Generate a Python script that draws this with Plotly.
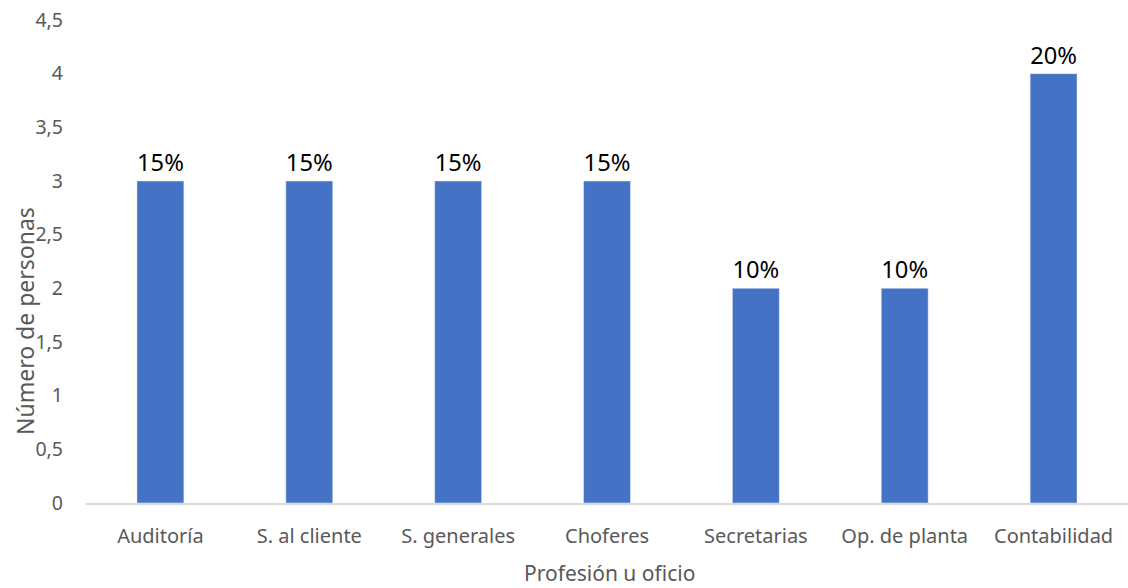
import plotly.graph_objects as go

categories = ["Auditoría", "S. al cliente", "S. generales", "Choferes", "Secretarias", "Op. de planta", "Contabilidad"]
values = [3, 3, 3, 3, 2, 2, 4]
labels = ["15%", "15%", "15%", "15%", "10%", "10%", "20%"]
y_ticks = [0, 0.5, 1, 1.5, 2, 2.5, 3, 3.5, 4, 4.5]
y_tick_text = ["0", "0,5", "1", "1,5", "2", "2,5", "3", "3,5", "4", "4,5"]

FONT = "Noto Sans"
GRAY = "#595959"

L, T, B = 86, 20, 85
W, H = 1128, 588
PW = W - L
PH = H - T - B

fig = go.Figure(go.Bar(
    x=categories, y=values, text=labels, textposition="outside",
    textfont=dict(family=FONT, size=24, color="black"),
    marker=dict(color="#4472C4"), cliponaxis=False,
))

fig.update_layout(
    width=W, height=H,
    margin=dict(l=L, r=0, t=T, b=B),
    paper_bgcolor="white", plot_bgcolor="white",
    bargap=0.685, showlegend=False,
    font=dict(family=FONT, color=GRAY),
    xaxis=dict(
        automargin=False,
        showline=True, linecolor="#D9D9D9", linewidth=1.5,
        tickfont=dict(family=FONT, size=20, color=GRAY),
        ticks="", ticklabelstandoff=14,
    ),
    yaxis=dict(
        automargin=False, ticklabeloverflow="allow",
        range=[0, 4.5], tickvals=y_ticks, ticktext=y_tick_text,
        showgrid=False, zeroline=False, showline=False,
        tickfont=dict(family=FONT, size=19.5, color=GRAY),
        ticks="", ticklabelstandoff=22,
    ),
    annotations=[
        dict(
            text="Número de personas", textangle=-90, xref="paper", yref="paper",
            x=(25 - L) / PW, y=(503 - 321) / PH, xanchor="center", yanchor="middle", showarrow=False,
            font=dict(family=FONT, size=23, color=GRAY),
        ),
        dict(
            text="Profesión u oficio", xref="paper", yref="paper",
            x=(609 - L) / PW, y=-(573 - 503) / PH, xanchor="center", yanchor="middle", showarrow=False,
            font=dict(family=FONT, size=21, color=GRAY),
        ),
    ],
)

fig.write_html(
    "out.html",
    config={"displayModeBar": False},
    post_script="document.body.style.margin='0';document.body.style.overflow='hidden';",
)
